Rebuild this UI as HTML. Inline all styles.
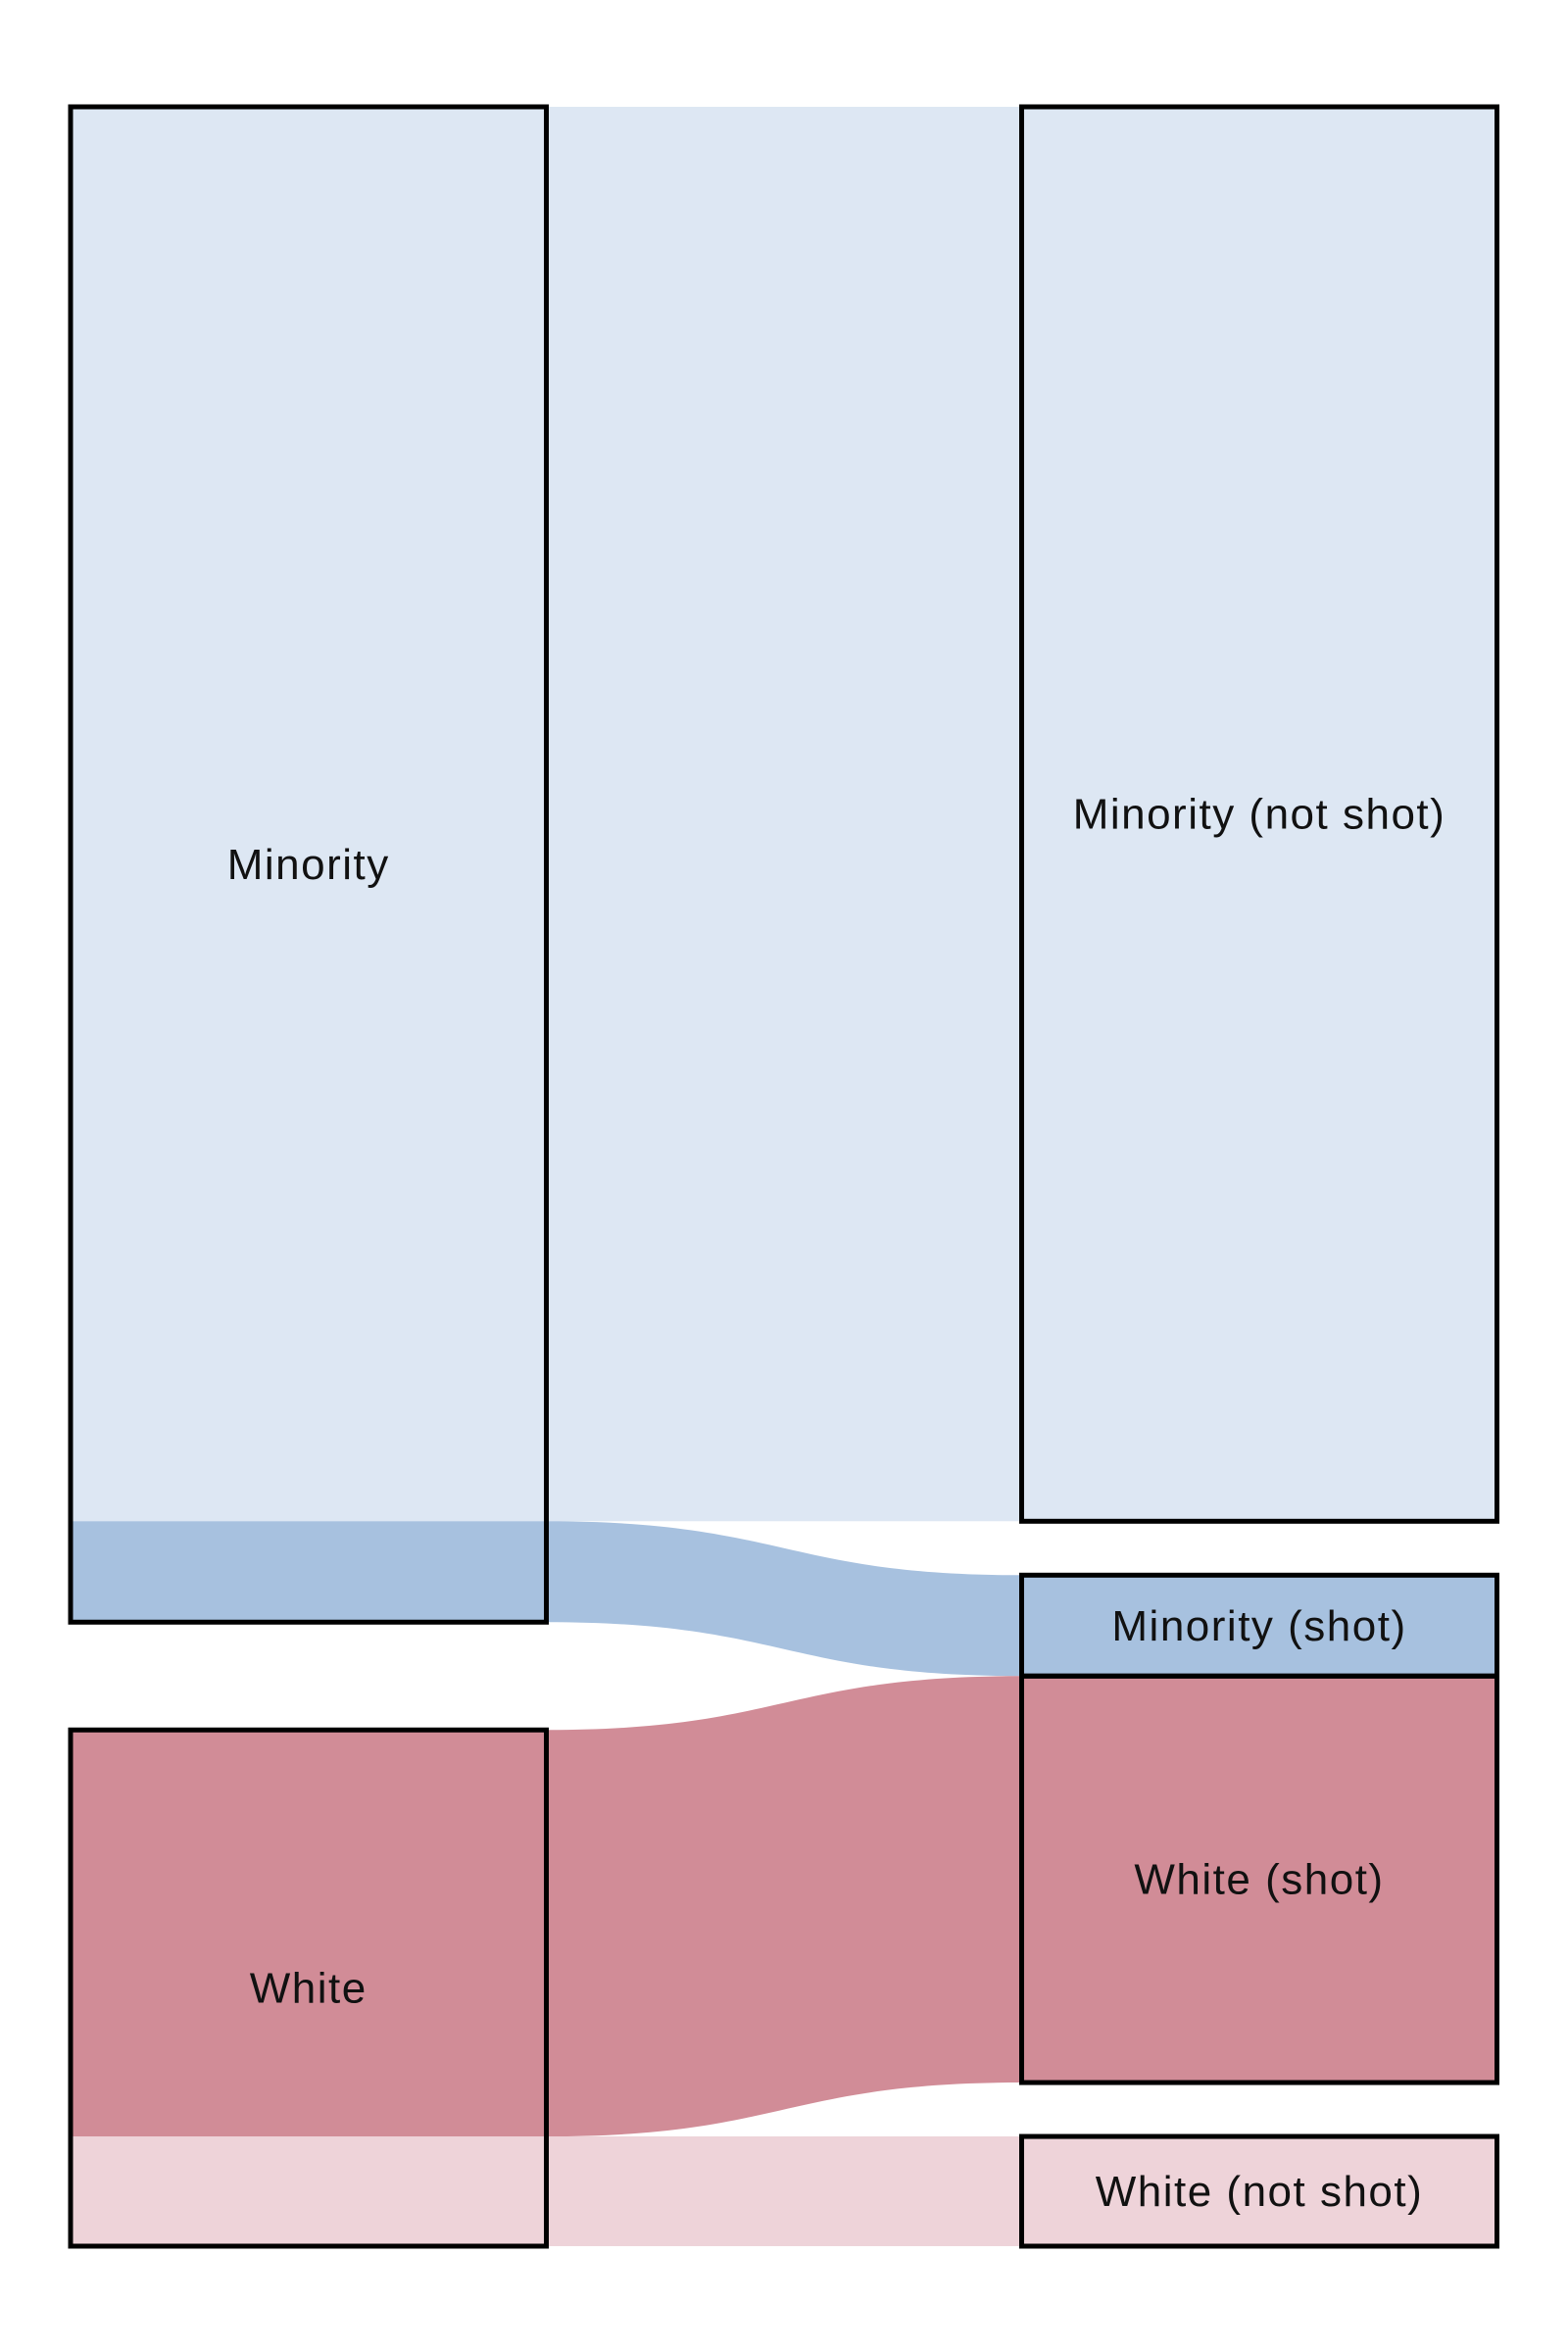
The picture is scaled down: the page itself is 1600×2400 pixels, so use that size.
<!DOCTYPE html>
<html>
<head>
<meta charset="utf-8">
<style>
  html, body { margin:0; padding:0; background:#fff; }
  svg { display:block; }
  text { font-family: "Liberation Sans", "DejaVu Sans", sans-serif; font-size:44px; letter-spacing:1.5px; fill:#111; }
</style>
</head>
<body>
<svg id="chart" width="1600" height="2400" viewBox="0 0 1600 2400" xmlns="http://www.w3.org/2000/svg">
  <g id="flows"></g>
  <g id="nodes"></g>
  <g id="labels"></g>
</svg>
<script>
// Data
const sourceNodes = ["Minority", "White"];
const targetNodes = ["Minority (not shot)", "Minority (shot)", "White (shot)", "White (not shot)"];
const flowSources = ["Minority", "Minority", "White", "White"];
const flowTargets = ["Minority (not shot)", "Minority (shot)", "White (shot)", "White (not shot)"];
const flowValues = [144.4, 10.3, 41.5, 11.2];
const flowColors = ["#dde7f3", "#a7c1df", "#d18c97", "#eed3d9"];

const NS = "http://www.w3.org/2000/svg";
const top0 = 109, bottom0 = 2292, gap = 55;
const leftX0 = 72, leftX1 = 557.5, rightX0 = 1042.5, rightX1 = 1527.5;

function nodeValue(name, key) {
  let s = 0;
  flowValues.forEach((v, i) => { if ((key === 's' ? flowSources[i] : flowTargets[i]) === name) s += v; });
  return s;
}
const total = flowValues.reduce((a, b) => a + b, 0);
const leftGaps = (sourceNodes.length - 1) * 2 * gap;
const rightGaps = (targetNodes.length - 2) * gap;
const k = (bottom0 - top0 - Math.max(leftGaps, rightGaps)) / total;

const leftPos = {}, rightPos = {};
let y = top0;
const lg = (bottom0 - top0 - total * k) / (sourceNodes.length - 1);
sourceNodes.forEach(n => { const h = nodeValue(n, 's') * k; leftPos[n] = { y0: y, y1: y + h, cur: y }; y += h + lg; });
y = top0;
targetNodes.forEach((n, i) => {
  const h = nodeValue(n, 't') * k;
  rightPos[n] = { y0: y, y1: y + h, cur: y };
  y += h;
  if (i !== 1) y += gap;
});

const flowsG = document.getElementById('flows');
flowValues.forEach((v, i) => {
  const s = leftPos[flowSources[i]], t = rightPos[flowTargets[i]];
  const h = v * k;
  const sy0 = s.cur, sy1 = s.cur + h; s.cur += h;
  const ty0 = t.cur, ty1 = t.cur + h; t.cur += h;
  const mx = (leftX1 + rightX0) / 2;
  const d = `M${leftX0},${sy0} L${leftX1},${sy0} C${mx},${sy0} ${mx},${ty0} ${rightX0},${ty0} L${rightX1},${ty0} L${rightX1},${ty1} L${rightX0},${ty1} C${mx},${ty1} ${mx},${sy1} ${leftX1},${sy1} L${leftX0},${sy1} Z`;
  const p = document.createElementNS(NS, 'path');
  p.setAttribute('d', d);
  p.setAttribute('fill', flowColors[i]);
  
  
  flowsG.appendChild(p);
});

const nodesG = document.getElementById('nodes');
const labelsG = document.getElementById('labels');
function drawNode(name, x0, x1, pos) {
  const r = document.createElementNS(NS, 'rect');
  r.setAttribute('x', x0); r.setAttribute('y', pos.y0);
  r.setAttribute('width', x1 - x0); r.setAttribute('height', pos.y1 - pos.y0);
  r.setAttribute('fill', 'none'); r.setAttribute('stroke', '#000'); r.setAttribute('stroke-width', '5');
  
  
  nodesG.appendChild(r);
  const t = document.createElementNS(NS, 'text');
  t.setAttribute('x', (x0 + x1) / 2);
  t.setAttribute('y', (pos.y0 + pos.y1) / 2 + 15);
  t.setAttribute('text-anchor', 'middle');
  t.textContent = name;
  
  
  labelsG.appendChild(t);
}
sourceNodes.forEach(n => drawNode(n, leftX0, leftX1, leftPos[n]));
targetNodes.forEach(n => drawNode(n, rightX0, rightX1, rightPos[n]));
</script>
</body>
</html>
